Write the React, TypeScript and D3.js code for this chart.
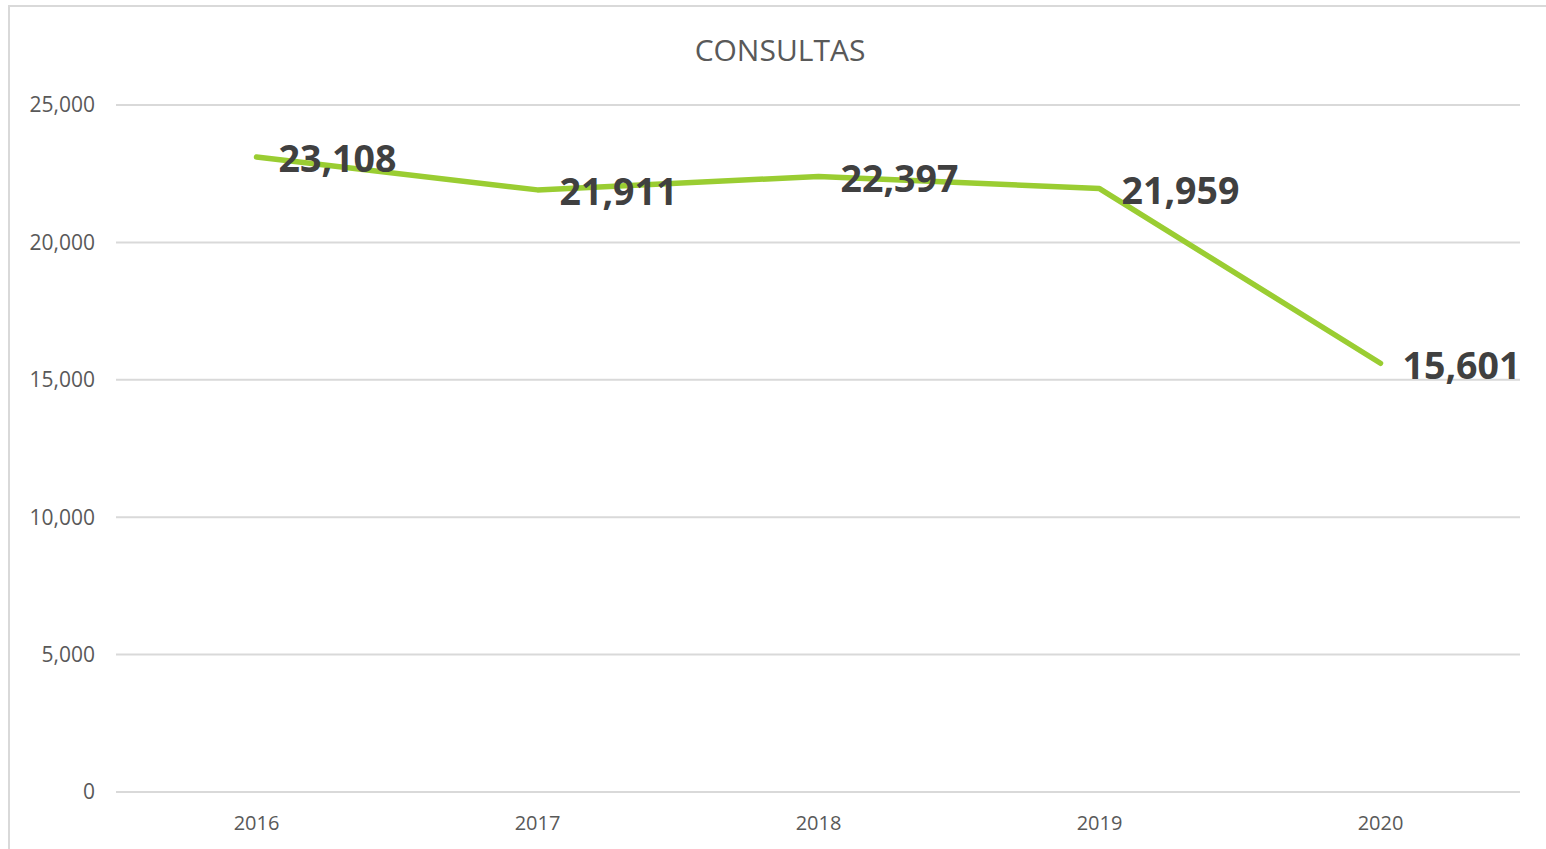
import React from "react";
import * as d3 from "d3";

const categories = ["2016", "2017", "2018", "2019", "2020"];
const values = [23108, 21911, 22397, 21959, 15601];
const yTicks = [0, 5000, 10000, 15000, 20000, 25000];
const title = "CONSULTAS";

const W = 1546;
const H = 849;
const plot = { left: 116, right: 1521, top: 105, bottom: 792 };

export default function App() {
  const x = d3.scaleBand<string>().domain(categories).range([plot.left, plot.right]);
  const y = d3.scaleLinear().domain([0, 25000]).range([plot.bottom, plot.top]);
  const fmt = d3.format(",");
  const cx = (c: string) => (x(c) as number) + x.bandwidth() / 2;
  const line = d3
    .line<number>()
    .x((_, i) => cx(categories[i]))
    .y((d) => y(d));

  return (
    <svg
      width={W}
      height={H}
      style={{ position: "absolute", left: 0, top: 0, background: "#fff" }}
      fontFamily="'Open Sans', sans-serif"
    >
      <rect x={9} y={6} width={W + 20} height={H + 20} fill="#fff" stroke="#d9d9d9" strokeWidth={2} />
      <text x={780} y={61} textAnchor="middle" fontSize={30} fill="#595959">
        {title}
      </text>
      {yTicks.map((t) => (
        <g key={t}>
          <line x1={plot.left} x2={plot.right - 1} y1={y(t)} y2={y(t)} stroke="#d9d9d9" strokeWidth={2} />
          <text x={95} y={y(t)} dy="0.35em" textAnchor="end" fontSize={21} fill="#595959">
            {fmt(t)}
          </text>
        </g>
      ))}
      {categories.map((c) => (
        <text key={c} x={cx(c)} y={830} textAnchor="middle" fontSize={20} fill="#595959">
          {c}
        </text>
      ))}
      <path
        d={line(values) || ""}
        fill="none"
        stroke="#9acd32"
        strokeWidth={5.5}
        strokeLinecap="round"
        strokeLinejoin="round"
      />
      {values.map((v, i) => (
        <text
          key={i}
          x={cx(categories[i]) + 22}
          y={y(v) + 2}
          dy="0.36em"
          fontSize={37.5}
          fontWeight="bold"
          fill="#404040"
        >
          {fmt(v)}
        </text>
      ))}
    </svg>
  );
}
